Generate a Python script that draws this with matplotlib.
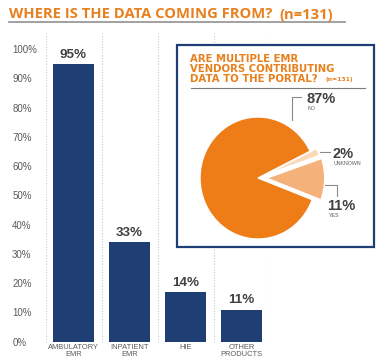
import matplotlib
matplotlib.use("Agg")
import matplotlib.pyplot as plt
from matplotlib.patches import Rectangle

# ---- data ----
categories = ["AMBULATORY\nEMR", "INPATIENT\nEMR", "HIE", "OTHER\nPRODUCTS"]
bar_heights = [95, 34, 17, 11]
bar_labels = ["95%", "33%", "14%", "11%"]
y_ticks = [0, 10, 20, 30, 40, 50, 60, 70, 80, 90, 100]
y_tick_labels = ["0%", "10%", "20%", "30%", "40%", "50%", "60%", "70%", "80%", "90%", "100%"]

pie_names = ["NO", "YES", "UNKNOWN"]
pie_values = [87, 11, 2]
pie_labels = ["87%", "11%", "2%"]

W, H = 378, 362
ORANGE = "#E8801E"
NAVY = "#1F3E74"
DARK = "#404040"
GRAY = "#5A5A5A"
FONT = ["Liberation Sans", "DejaVu Sans"]
TFONT = ["Open Sans", "DejaVu Sans"]
PFONT = ["DejaVu Sans"]

fig = plt.figure(figsize=(W / 100, H / 100), dpi=100)

def rect(l, t, r, b):
    return [l / W, 1 - b / H, (r - l) / W, (b - t) / H]

# ---- bar chart ----
ax = fig.add_axes(rect(45.5, 33, 269.5, 341.7))
x = list(range(len(categories)))
ax.bar(x, bar_heights, width=0.73, color=NAVY, zorder=2)
ax.set_xlim(-0.5, len(categories) - 0.5)
ax.set_ylim(0, 105.5)
for s in ax.spines.values():
    s.set_visible(False)
for b in [i - 0.5 for i in range(len(categories) + 1)]:
    ax.axvline(b, color="#C9C9C9", lw=0.8, ls=(0, (1, 1.5)), zorder=1)
ax.set_yticks(y_ticks)
ax.set_yticklabels(y_tick_labels, fontsize=7.0, color=GRAY, family=FONT, ha="left")
ax.tick_params(axis="y", length=0, pad=24.0)
ax.set_xticks(x)
ax.set_xticklabels(categories, fontsize=5.4, color=GRAY, family=FONT, linespacing=1.0)
ax.tick_params(axis="x", length=0, pad=1.5)
for xi, h, lab in zip(x, bar_heights, bar_labels):
    ax.annotate(lab, (xi, h), xytext=(0, 6.6), textcoords="offset points",
                ha="center", va="center", fontsize=9.6, fontweight="bold",
                color=DARK, family=FONT)

# ---- overlay (title, inset box) ----
ov = fig.add_axes([0, 0, 1, 1], zorder=5)
ov.set_xlim(0, W)
ov.set_ylim(H, 0)
ov.axis("off")
ov.text(9, 18.5, "WHERE IS THE DATA COMING FROM?", fontsize=10.6, fontweight="bold",
        color=ORANGE, family=TFONT, va="baseline", ha="left")
ov.text(279, 18.5, "(n=131)", fontsize=10.6, fontweight="bold",
        color=ORANGE, family=TFONT, va="baseline", ha="left")
ov.plot([9, 345], [22, 22], color="#9A9A9A", lw=1.3)

ov.add_patch(Rectangle((177, 45), 197, 202, facecolor="white", edgecolor=NAVY, lw=1.6))
for txt, yb in [("ARE MULTIPLE EMR", 62.4), ("VENDORS CONTRIBUTING", 72.2),
                ("DATA TO THE PORTAL?", 81.8)]:
    ov.text(190.5, yb, txt, fontsize=7.3, fontweight="bold", color=ORANGE,
            family=PFONT, va="baseline")
ov.text(326, 81.3, "(n=131)", fontsize=4.3, fontweight="bold", color=ORANGE,
        family=PFONT, va="baseline")
ov.plot([190.5, 365], [88, 88], color="#7A7A7A", lw=0.8)

# leader lines
LC = "#8A8A8A"
ov.plot([291.7, 291.7, 300.5], [120, 97, 97], color=LC, lw=0.8)
ov.plot([320, 330], [151.7, 151.7], color=LC, lw=0.8)
ov.plot([325, 336.7, 336.7], [185, 185, 195.7], color=LC, lw=0.8)

# pie labels
lab_pos = {"NO": (306.5, 99), "YES": (327.5, 205.5), "UNKNOWN": (332.5, 153.5)}
for name, lab in zip(pie_names, pie_labels):
    px, py = lab_pos[name]
    ov.text(px, py, lab, fontsize=10.5, fontweight="bold", color=DARK, family=FONT,
            ha="left", va="center")
    ov.text(px + 1.5, py + 10, name, fontsize=3.8, color=GRAY, family=FONT,
            ha="left", va="center")

# ---- pie ----
cx, cy, half = 258, 178, 66
pa = fig.add_axes(rect(cx - half, cy - half, cx + half, cy + half), zorder=6)
pa.pie(pie_values, colors=["#EE7D17", "#F4B27A", "#FAD9B8"], startangle=26,
       counterclock=True, explode=[0, 0.15, 0.12],
       wedgeprops=dict(edgecolor="white", linewidth=1.0))
pa.set_aspect("auto")
pa.set_xlim(-half / 58, half / 58)
pa.set_ylim(-half / 61, half / 61)
pa.axis("off")

fig.savefig("out.png", dpi=100)
